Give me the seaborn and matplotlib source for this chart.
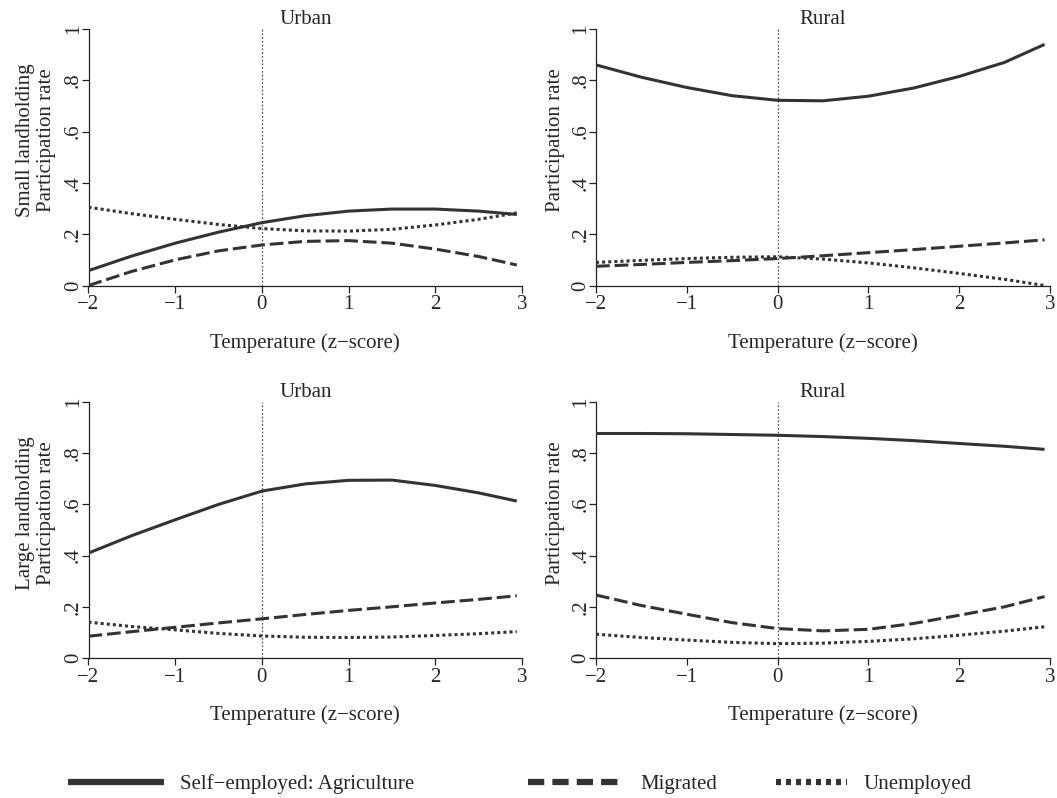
import matplotlib
matplotlib.use("Agg")
import matplotlib.pyplot as plt
import seaborn as sns
import pandas as pd
from matplotlib.lines import Line2D

# temperature grid (z-score)
temp = [-2, -1.5, -1, -0.5, 0, 0.5, 1, 1.5, 2, 2.5, 2.94]

# Small landholding - Urban
su_agri = [0.058, 0.115, 0.165, 0.208, 0.245, 0.272, 0.290, 0.298, 0.298, 0.290, 0.277]
su_migr = [0.000, 0.055, 0.100, 0.135, 0.158, 0.172, 0.175, 0.165, 0.142, 0.113, 0.080]
su_unem = [0.305, 0.280, 0.258, 0.238, 0.222, 0.213, 0.212, 0.219, 0.236, 0.258, 0.283]

# Small landholding - Rural
sr_agri = [0.860, 0.812, 0.772, 0.740, 0.722, 0.720, 0.738, 0.770, 0.815, 0.870, 0.940]
sr_migr = [0.075, 0.082, 0.090, 0.097, 0.105, 0.116, 0.128, 0.140, 0.153, 0.166, 0.178]
sr_unem = [0.090, 0.098, 0.105, 0.110, 0.112, 0.103, 0.088, 0.069, 0.047, 0.024, 0.000]

# Large landholding - Urban
lu_agri = [0.410, 0.478, 0.540, 0.600, 0.652, 0.680, 0.694, 0.695, 0.674, 0.645, 0.613]
lu_migr = [0.085, 0.103, 0.120, 0.137, 0.153, 0.170, 0.186, 0.200, 0.215, 0.229, 0.243]
lu_unem = [0.140, 0.123, 0.110, 0.096, 0.086, 0.081, 0.080, 0.082, 0.088, 0.095, 0.103]

# Large landholding - Rural
lr_agri = [0.877, 0.877, 0.876, 0.873, 0.870, 0.865, 0.858, 0.849, 0.838, 0.827, 0.815]
lr_migr = [0.246, 0.205, 0.171, 0.138, 0.115, 0.106, 0.112, 0.135, 0.167, 0.200, 0.240]
lr_unem = [0.093, 0.080, 0.070, 0.061, 0.056, 0.058, 0.065, 0.075, 0.089, 0.105, 0.122]

outcomes = ["Self\u2212employed: Agriculture", "Migrated", "Unemployed"]
ytick_vals = [0, 0.2, 0.4, 0.6, 0.8, 1]
ytick_labels = ["0", ".2", ".4", ".6", ".8", "1"]
xtick_vals = [-2, -1, 0, 1, 2, 3]

panels = [
    ("Urban", "Small landholding\nParticipation rate", [su_agri, su_migr, su_unem]),
    ("Rural", "Participation rate", [sr_agri, sr_migr, sr_unem]),
    ("Urban", "Large landholding\nParticipation rate", [lu_agri, lu_migr, lu_unem]),
    ("Rural", "Participation rate", [lr_agri, lr_migr, lr_unem]),
]

sns.set_style("ticks")
plt.rcParams["font.family"] = ["Liberation Serif", "DejaVu Serif"]
plt.rcParams["font.size"] = 15
plt.rcParams["axes.unicode_minus"] = True

FS = 15
line_color = "#333333"
palette = {o: line_color for o in outcomes}
dash_map = {outcomes[0]: "", outcomes[1]: (4.5, 1.6), outcomes[2]: (1, 1)}

W, H = 1057, 798
fig = plt.figure(figsize=(W / 100, H / 100), dpi=100)

# axes boxes in pixels: left, right, top(y=1), bottom(y=0)
boxes = [
    (88.5, 522, 29, 285.5),
    (596, 1050, 29, 285.5),
    (88.5, 522, 402, 658),
    (596, 1050, 402, 658),
]

for (title, ylab, series), (l, r, t, b) in zip(panels, boxes):
    ax = fig.add_axes([l / W, 1 - b / H, (r - l) / W, (b - t) / H])
    rows = []
    for name, vals in zip(outcomes, series):
        for x, y in zip(temp, vals):
            rows.append({"temp": x, "rate": y, "outcome": name})
    df = pd.DataFrame(rows)
    ax.axvline(0, color="#555555", lw=0.9, ls=(0, (1.5, 1.5)), zorder=1)
    sns.lineplot(data=df, x="temp", y="rate", hue="outcome", style="outcome",
                 palette=palette, dashes=dash_map, linewidth=2.2,
                 estimator=None, legend=False, ax=ax, zorder=3)
    for ln in ax.get_lines()[1:]:
        ln.set_solid_joinstyle("round")
        ln.set_solid_capstyle("butt")
    ax.set_xlim(-2, 3)
    ax.set_ylim(0, 1)
    ax.set_xticks(xtick_vals)
    ax.set_yticks(ytick_vals)
    ax.set_yticklabels(ytick_labels, rotation=90, va="center")
    sns.despine(ax=ax)
    for sp in ("left", "bottom"):
        ax.spines[sp].set_linewidth(0.9)
        ax.spines[sp].set_color("#222222")
    ax.tick_params(axis="both", direction="out", length=5, width=0.9,
                   color="#222222", labelsize=FS)
    ax.tick_params(axis="y", pad=-1)
    ax.tick_params(axis="x", pad=2)
    ax.set_title(title, fontsize=FS, pad=1)
    ax.set_xlabel("Temperature (z\u2212score)", fontsize=FS)
    ax.xaxis.set_label_coords(0.5, -0.185)
    ax.set_ylabel(ylab, fontsize=FS, linespacing=1.2)
    if "\n" in ylab:
        ax.yaxis.set_label_coords(-0.074, 0.567)
    else:
        ax.yaxis.set_label_coords(-0.068, 0.567)

# legend row at the bottom
legend_specs = [
    (outcomes[0], "-", 68, 4.6),
    (outcomes[1], (0, (2.6, 1.3)), 528, 4.6),
    (outcomes[2], (0, (0.8, 0.8)), 776, 3.4),
]
for name, ls, x0, hl in legend_specs:
    h = Line2D([], [], color=line_color, lw=4.5, ls=ls,
               solid_capstyle="butt", dash_capstyle="butt")
    fig.legend(handles=[h], labels=[name], loc="center left",
               bbox_to_anchor=(x0 / W, 1 - 784 / H), frameon=False,
               handlelength=hl, handletextpad=0.8, borderpad=0,
               borderaxespad=0, fontsize=FS)

fig.savefig("out.png", dpi=100)
